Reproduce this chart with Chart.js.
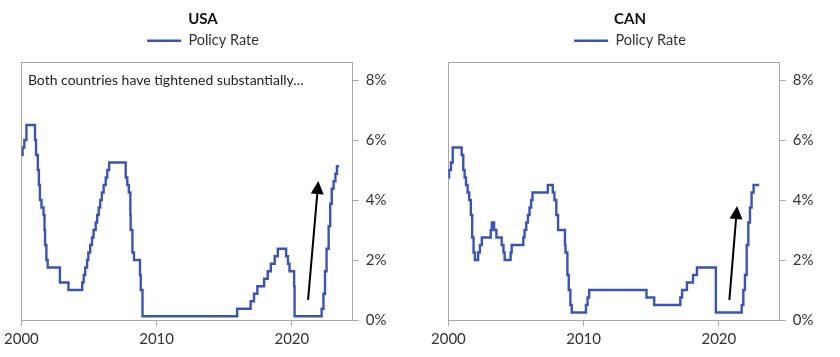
<!DOCTYPE html>
<html><head><meta charset="utf-8">
<script src="https://cdn.jsdelivr.net/npm/chart.js@4"></script>
<style>
html,body{margin:0;padding:0;background:#fff;width:840px;height:357px;overflow:hidden;}
canvas{position:absolute;top:0;}
#c1{left:0}
#c2{left:427px}
</style></head><body>
<canvas id="c1" width="406" height="357"></canvas>
<canvas id="c2" width="406" height="357"></canvas>
<script>
// ---- data ----
const xTicks = [2000, 2010, 2020];
const yTicks = [0, 2, 4, 6, 8];
const seriesLabel = 'Policy Rate';
const chartTitles = ['USA', 'CAN'];
const noteText = 'Both countries have tightened substantially\u2026';

// USA policy rate (change dates, % level from that date)
const usaDates = ['2000-01-01','2000-02-02','2000-03-21','2000-05-16','2001-01-03','2001-01-31','2001-03-20','2001-04-18','2001-05-15','2001-06-27','2001-08-21','2001-09-17','2001-10-02','2001-11-06','2001-12-11','2002-11-06','2003-06-25','2004-06-30','2004-08-10','2004-09-21','2004-11-10','2004-12-14','2005-02-02','2005-03-22','2005-05-03','2005-06-30','2005-08-09','2005-09-20','2005-11-01','2005-12-13','2006-01-31','2006-03-28','2006-05-10','2006-06-29','2007-09-18','2007-10-31','2007-12-11','2008-01-22','2008-01-30','2008-03-18','2008-04-30','2008-10-08','2008-10-29','2008-12-16','2015-12-16','2016-12-14','2017-03-15','2017-06-14','2017-12-13','2018-03-21','2018-06-13','2018-09-26','2018-12-19','2019-07-31','2019-09-18','2019-10-30','2020-03-03','2020-03-15','2022-03-16','2022-05-04','2022-06-15','2022-07-27','2022-09-21','2022-11-02','2022-12-14','2023-02-01','2023-03-22','2023-05-03','2023-06-30'];
const usaRates = [5.5,5.75,6.0,6.5,6.0,5.5,5.0,4.5,4.0,3.75,3.5,3.0,2.5,2.0,1.75,1.25,1.0,1.25,1.5,1.75,2.0,2.25,2.5,2.75,3.0,3.25,3.5,3.75,4.0,4.25,4.5,4.75,5.0,5.25,4.75,4.5,4.25,3.5,3.0,2.25,2.0,1.5,1.0,0.125,0.375,0.625,0.875,1.125,1.375,1.625,1.875,2.125,2.375,2.125,1.875,1.625,1.125,0.125,0.375,0.875,1.625,2.375,3.125,3.875,4.375,4.625,4.875,5.125,5.125];

// CAN policy rate (change points, decimal years)
const canYears = [2000.0,2000.05,2000.19,2000.32,2000.98,2001.10,2001.20,2001.30,2001.42,2001.54,2001.66,2001.76,2001.86,2001.96,2002.20,2002.33,2002.47,2003.13,2003.21,2003.38,2003.55,2003.94,2004.07,2004.16,2004.60,2004.68,2005.54,2005.63,2005.76,2005.88,2006.00,2006.12,2006.22,2007.35,2007.72,2007.84,2007.98,2008.11,2008.62,2008.66,2008.80,2008.90,2009.02,2009.12,2010.17,2010.29,2010.41,2014.65,2015.22,2017.15,2017.28,2017.64,2018.09,2018.38,2019.78,2021.69,2021.81,2021.93,2022.06,2022.18,2022.30,2022.42,2022.57,2022.99];
const canRates = [4.75,5.0,5.25,5.75,5.5,5.0,4.75,4.5,4.25,4.0,3.5,2.75,2.25,2.0,2.25,2.5,2.75,3.0,3.25,3.0,2.75,2.5,2.25,2.0,2.25,2.5,2.75,3.0,3.25,3.5,3.75,4.0,4.25,4.5,4.25,4.0,3.5,3.0,2.5,2.25,1.5,1.0,0.5,0.25,0.5,0.75,1.0,0.75,0.5,0.75,1.0,1.25,1.5,1.75,0.25,0.5,1.0,1.5,2.5,3.25,3.75,4.25,4.5,4.5];

// ---- styling / layout ----
const LINE = '#3a54b4';
const FRAME = '#a8a8a8';
const FONT = 'Lato';

function toYear(s){
  const [y,m,d] = s.split('-').map(Number);
  const a = Date.UTC(y,0,1), b = Date.UTC(y+1,0,1);
  return y + (Date.UTC(y,m-1,d) - a) / (b - a);
}

function drawArrow(ctx, x1, y1, x2, y2){
  const ang = Math.atan2(y2 - y1, x2 - x1);
  const hl = 13, hw = 6.5;
  const bx = x2 - hl*Math.cos(ang), by = y2 - hl*Math.sin(ang);
  ctx.save();
  ctx.strokeStyle = '#000'; ctx.fillStyle = '#000'; ctx.lineWidth = 2;
  ctx.beginPath(); ctx.moveTo(x1,y1); ctx.lineTo(bx,by); ctx.stroke();
  ctx.beginPath();
  ctx.moveTo(x2,y2);
  ctx.lineTo(bx + hw*Math.sin(ang), by - hw*Math.cos(ang));
  ctx.lineTo(bx - hw*Math.sin(ang), by + hw*Math.cos(ang));
  ctx.closePath(); ctx.fill();
  ctx.restore();
}

function makeChart(id, title, xs, ys, arrow, note){
  const extras = {
    id: 'extras',
    beforeDatasetsDraw(chart){
      const {ctx, chartArea: a} = chart;
      ctx.save();
      ctx.strokeStyle = FRAME; ctx.lineWidth = 1;
      ctx.strokeRect(Math.round(a.left)+0.5, Math.round(a.top)+0.5, Math.round(a.right-a.left), Math.round(a.bottom-a.top));
      ctx.restore();
    },
    afterDatasetsDraw(chart){
      const {ctx, scales:{x, y}, chartArea: a} = chart;
      if (note){
        ctx.save();
        ctx.font = '14px ' + FONT;
        ctx.fillStyle = '#222';
        ctx.textBaseline = 'middle';
        ctx.fillText(note, a.left + 6.5, y.getPixelForValue(8));
        ctx.restore();
      }
      if (arrow){
        drawArrow(ctx, x.getPixelForValue(arrow[0]), y.getPixelForValue(arrow[1]),
                       x.getPixelForValue(arrow[2]), y.getPixelForValue(arrow[3]));
      }
    }
  };
  return new Chart(document.getElementById(id), {
    type: 'line',
    data: { datasets: [{
      label: seriesLabel,
      data: xs.map((v,i) => ({x: v, y: ys[i]})),
      borderColor: LINE, backgroundColor: LINE,
      borderWidth: 2.4, pointRadius: 0, stepped: true, fill: false, tension: 0
    }]},
    options: {
      responsive: false, animation: false,
      layout: { padding: 0 },
      plugins: {
        title: { display: true, text: title, color: '#111',
                 font: {family: FONT, size: 15, weight: 'bold'},
                 padding: {top: 10.5, bottom: 0.95} },
        legend: { display: true,
                  labels: { boxWidth: 34, boxHeight: 0, padding: 4, color: '#333',
                            font: {family: FONT, size: 14.5} } },
        tooltip: { enabled: false }
      },
      scales: {
        x: { type: 'linear', position: 'bottom', min: 2000, max: 2024.5,
             afterBuildTicks: s => { s.ticks = xTicks.map(v => ({value: v})); },
             afterFit: s => { s.height = 37; },
             ticks: { callback: v => String(v), color: '#333', padding: 4, maxRotation: 0, autoSkip: false,
                      font: {family: FONT, size: 15} },
             grid: { drawOnChartArea: false, drawTicks: true, tickLength: 6, color: FRAME },
             border: { display: true, color: FRAME } },
        y: { type: 'linear', position: 'right', min: 0, max: 8.6,
             afterBuildTicks: s => { s.ticks = yTicks.map(v => ({value: v})); },
             afterFit: s => { s.width = 53.3; },
             ticks: { callback: v => v + '%', color: '#333', padding: 7,
                      font: {family: FONT, size: 15} },
             grid: { drawOnChartArea: false, drawTicks: true, tickLength: 6, color: FRAME },
             border: { display: true, color: FRAME } },
        padL: { type: 'linear', position: 'left', display: true, min: 0, max: 1,
                afterFit: s => { s.width = 19; },
                ticks: { display: false }, grid: { display: false }, border: { display: false } },
        padT: { type: 'linear', position: 'top', display: true, min: 0, max: 1,
                afterFit: s => { s.height = 4.05; },
                ticks: { display: false }, grid: { display: false }, border: { display: false } }
      }
    },
    plugins: [extras]
  });
}

// arrow annotations in data units: [x0, y0, x1, y1]
const usaArrow = [2021.2, 0.67, 2021.96, 4.63];
const canArrow = [2020.78, 0.67, 2021.35, 3.8];

function build(){
  makeChart('c1', chartTitles[0], usaDates.map(toYear), usaRates, usaArrow, noteText);
  makeChart('c2', chartTitles[1], canYears, canRates, canArrow, null);
}
Promise.all([
  document.fonts.load('15px Lato'), document.fonts.load('bold 15px Lato')
]).then(build, build);
</script>
</body></html>
